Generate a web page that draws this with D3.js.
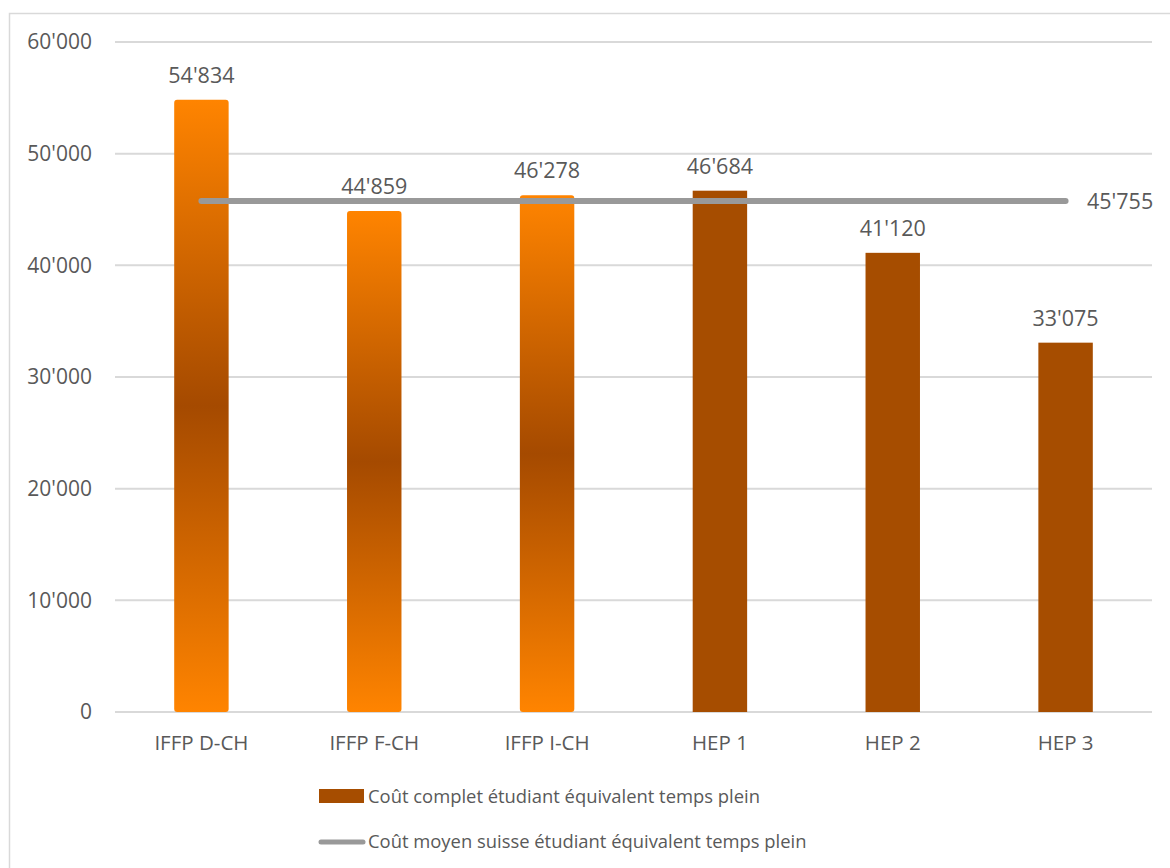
<!DOCTYPE html>
<meta charset="utf-8">
<script src="https://d3js.org/d3.v7.min.js"></script>
<style>
  body { margin: 0; background: #fff; }
  text { font-family: "Open Sans", sans-serif; }
</style>
<div id="dataviz"></div>
<script>

var categories = ["IFFP D-CH", "IFFP F-CH", "IFFP I-CH", "HEP 1", "HEP 2", "HEP 3"];
var costs = [54834, 44859, 46278, 46684, 41120, 33075];
var costLabels = ["54'834", "44'859", "46'278", "46'684", "41'120", "33'075"];
var average = 45755;
var averageLabel = "45'755";
var yTicks = [0, 10000, 20000, 30000, 40000, 50000, 60000];
var yTickLabels = ["0", "10'000", "20'000", "30'000", "40'000", "50'000", "60'000"];
var legendLabels = ["Coût complet étudiant équivalent temps plein",
                    "Coût moyen suisse étudiant équivalent temps plein"];

var W = 1170, H = 868;
var plotLeft = 115, plotRight = 1152, plotTop = 42, plotBottom = 712;

var svg = d3.select("#dataviz")
  .append("svg")
    .attr("width", W)
    .attr("height", H);

// outer frame
svg.append("rect")
  .attr("x", 9.5).attr("y", 13.5)
  .attr("width", W).attr("height", H)
  .attr("fill", "none")
  .attr("stroke", "#d9d9d9")
  .attr("stroke-width", 1.5);

var defs = svg.append("defs");
var grad = defs.append("linearGradient")
  .attr("id", "orangeGrad")
  .attr("x1", 0).attr("y1", 0).attr("x2", 0).attr("y2", 1);
grad.append("stop").attr("offset", "0%").attr("stop-color", "#ff8400");
grad.append("stop").attr("offset", "50%").attr("stop-color", "#a54a00");
grad.append("stop").attr("offset", "100%").attr("stop-color", "#ff8400");

var x = d3.scaleBand()
  .domain(categories)
  .range([plotLeft, plotRight])
  .paddingInner(0.685)
  .paddingOuter(0.3425);

var y = d3.scaleLinear()
  .domain([0, 60000])
  .range([plotBottom, plotTop]);

// gridlines
svg.append("g")
  .selectAll("line")
  .data(yTicks)
  .join("line")
    .attr("x1", plotLeft).attr("x2", plotRight)
    .attr("y1", function(d) { return y(d); })
    .attr("y2", function(d) { return y(d); })
    .attr("stroke", "#d9d9d9")
    .attr("stroke-width", 2);

// y labels
svg.append("g")
  .selectAll("text")
  .data(yTicks)
  .join("text")
    .attr("x", 92)
    .attr("y", function(d) { return y(d); })
    .attr("dy", "0.35em")
    .attr("text-anchor", "end")
    .attr("font-size", 21)
    .attr("fill", "#595959")
    .text(function(d, i) { return yTickLabels[i]; });

// bars
svg.append("g")
  .selectAll("rect")
  .data(costs)
  .join("rect")
    .attr("x", function(d, i) { return x(categories[i]); })
    .attr("y", function(d) { return y(d); })
    .attr("width", x.bandwidth())
    .attr("height", function(d) { return y(0) - y(d); })
    .attr("rx", function(d, i) { return i < 3 ? 3 : 0; })
    .attr("fill", function(d, i) { return i < 3 ? "url(#orangeGrad)" : "#a64d00"; });

// average line
svg.append("line")
  .attr("x1", x(categories[0]) + x.bandwidth() / 2)
  .attr("x2", x(categories[5]) + x.bandwidth() / 2)
  .attr("y1", y(average))
  .attr("y2", y(average))
  .attr("stroke", "#999999")
  .attr("stroke-width", 6)
  .attr("stroke-linecap", "round");

svg.append("text")
  .attr("x", 1087)
  .attr("y", y(average))
  .attr("dy", "0.35em")
  .attr("font-size", 21.5)
  .attr("fill", "#595959")
  .text(averageLabel);

// value labels
svg.append("g")
  .selectAll("text")
  .data(costs)
  .join("text")
    .attr("x", function(d, i) { return x(categories[i]) + x.bandwidth() / 2; })
    .attr("y", function(d) { return y(d) - 17; })
    .attr("text-anchor", "middle")
    .attr("font-size", 21.5)
    .attr("fill", "#595959")
    .text(function(d, i) { return costLabels[i]; });

// category labels
svg.append("g")
  .selectAll("text")
  .data(categories)
  .join("text")
    .attr("x", function(d) { return x(d) + x.bandwidth() / 2; })
    .attr("y", 750)
    .attr("text-anchor", "middle")
    .attr("font-size", 20.5)
    .attr("fill", "#595959")
    .text(function(d) { return d; });

// legend
svg.append("rect")
  .attr("x", 319).attr("y", 789)
  .attr("width", 45).attr("height", 14)
  .attr("fill", "#a64d00");
svg.append("line")
  .attr("x1", 321).attr("x2", 363)
  .attr("y1", 842).attr("y2", 842)
  .attr("stroke", "#999999")
  .attr("stroke-width", 5)
  .attr("stroke-linecap", "round");

svg.append("g")
  .selectAll("text")
  .data(legendLabels)
  .join("text")
    .attr("x", 368)
    .attr("y", function(d, i) { return 803 + i * 45; })
    .attr("font-size", 18.4)
    .attr("fill", "#595959")
    .text(function(d) { return d; });

</script>
